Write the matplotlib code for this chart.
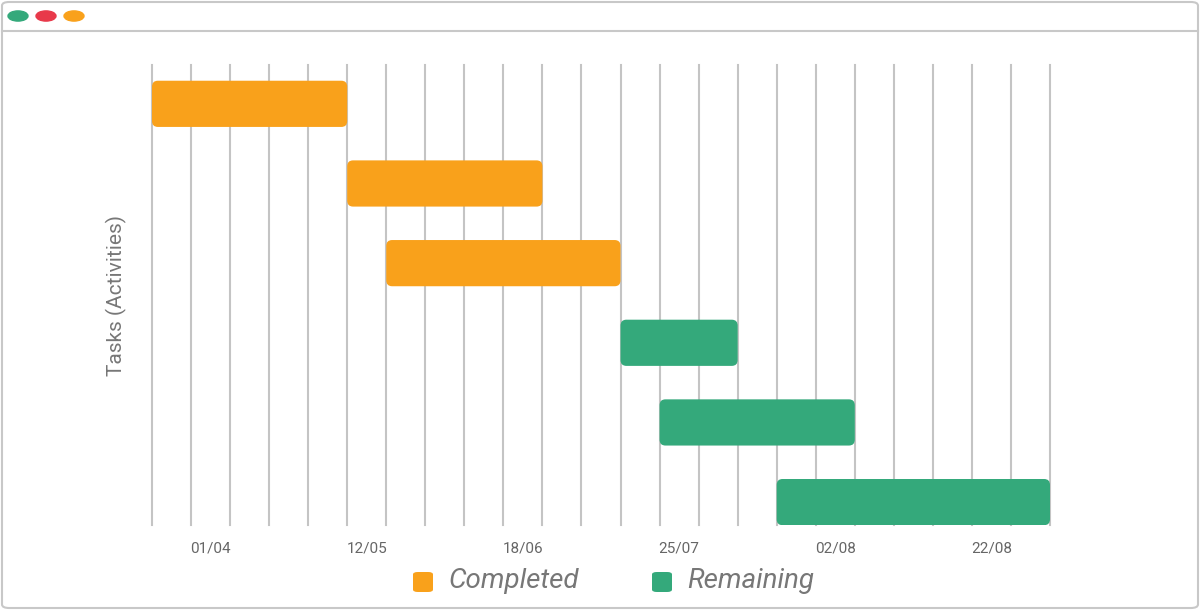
import matplotlib
matplotlib.use("Agg")
import matplotlib.pyplot as plt
from matplotlib.patches import FancyBboxPatch, Circle
plt.rcParams['font.family'] = ['Roboto', 'DejaVu Sans']

starts = [0, 5, 6, 12, 13, 16]
ends = [5, 10, 12, 15, 18, 23]
status = ["Completed", "Completed", "Completed", "Remaining", "Remaining", "Remaining"]
tick_pos = [1.5, 5.5, 9.5, 13.5, 17.5, 21.5]
tick_labels = ["01/04", "12/05", "18/06", "25/07", "02/08", "22/08"]
n_grid = 24
colors = {"Completed": "#F9A11B", "Remaining": "#34A97B"}

fig = plt.figure(figsize=(12, 6.1), dpi=100)
frame = FancyBboxPatch((2/1200, 2/610), 1196/1200, 606/610,
    boxstyle="round,pad=0,rounding_size=0.006", transform=fig.transFigure,
    fc="white", ec="#c8c8c8", lw=1.5, figure=fig, zorder=-10)
fig.patches.append(frame)
fig.add_artist(plt.Line2D([2/1200, 1198/1200], [1-31/610, 1-31/610], color="#c8c8c8", lw=1.5, zorder=5))
for xc, c in zip([18, 46, 74], ["#34A97B", "#E8394A", "#F9A11B"]):
    fig.add_artist(Circle((xc/1200, (610-16)/610), 10/1200, transform=fig.transFigure,
                          color=c, zorder=10))

ax = fig.add_axes([152/1200, 1-525/610, 898/1200, 460/610])
ax.patch.set_alpha(0)
for g in range(n_grid):
    ax.axvline(g, color="#c4c4c4", lw=1.5, zorder=0, clip_on=False)
for i, (s, e, st) in enumerate(zip(starts, ends, status)):
    ax.add_patch(FancyBboxPatch((s, i - 0.29), e - s, 0.58,
        boxstyle="round,pad=0,rounding_size=0.15", mutation_aspect=0.5,
        fc=colors[st], ec="none", zorder=2))
ax.set_xlim(0, n_grid - 1)
ax.set_ylim(5 + 23/80, -39/80)
ax.set_xticks(tick_pos)
ax.set_xticklabels(tick_labels, color="#666666", fontsize=11)
ax.tick_params(length=0, pad=12)
ax.set_yticks([])
for sp in ax.spines.values():
    sp.set_visible(False)
ax.set_ylabel("Tasks (Activities)", fontsize=15, color="#777777", labelpad=18)

for x0, lab in [(413, "Completed"), (652, "Remaining")]:
    fig.patches.append(FancyBboxPatch((x0/1200, (610-592)/610), 20/1200, 20/610,
        boxstyle="round,pad=0,rounding_size=0.004", transform=fig.transFigure,
        fc=colors[lab], ec="none", figure=fig))
    fig.text((x0+35)/1200, 1-581/610, lab, fontsize=20, style="italic", color="#777777", va="center")

fig.savefig("out.png", dpi=100)
